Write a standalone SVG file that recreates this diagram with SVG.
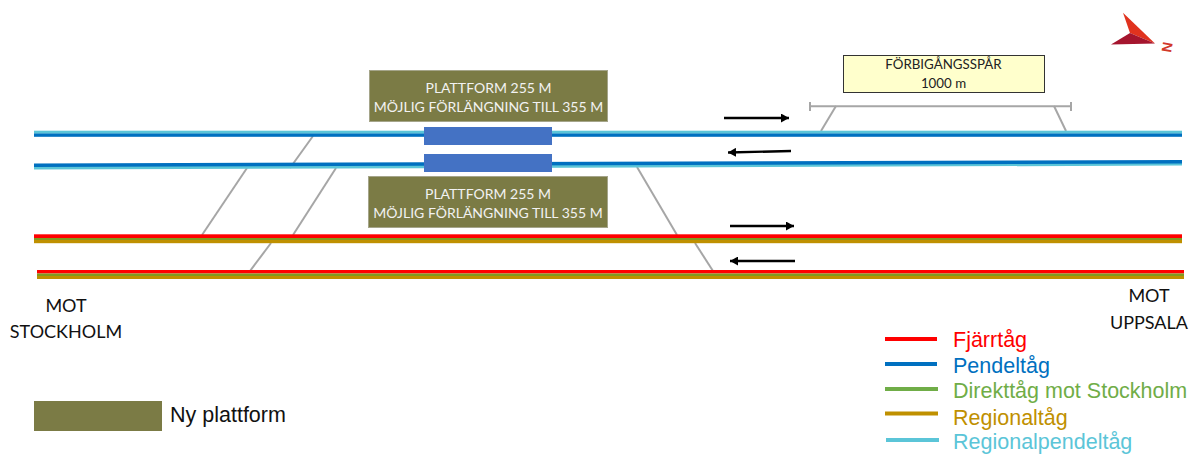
<svg xmlns="http://www.w3.org/2000/svg" width="1193" height="454" viewBox="0 0 1193 454">
<style>
.sw{stroke:#a6a6a6;stroke-width:2;fill:none}
.ar{stroke:#000;stroke-width:2.400;fill:none;marker-end:url(#ah)}
.tk{fill:none}
.plat{fill:#7b7b45;stroke:#a5a58a;stroke-width:1}
.pt{font-family:Lato,"Open Sans",sans-serif;font-size:14px;fill:#f2f2f2;text-anchor:middle}
.bt{font-family:Lato,"Open Sans",sans-serif;font-size:13.300px;fill:#222;text-anchor:middle}
.ct{font-family:Lato,"Open Sans",sans-serif;font-size:18px;fill:#111;text-anchor:middle}
.lg{font-family:"Liberation Sans",Arial,sans-serif;font-size:21.500px}
.ll{stroke-width:4;fill:none}
</style>
<defs>
<marker id="ah" markerUnits="userSpaceOnUse" markerWidth="9" markerHeight="9" refX="8" refY="4.500" orient="auto"><path d="M0,0L8,4.500L0,9z" fill="#000"/></marker>
</defs>
<g id="connectors">
<path class="sw" d="M313,136L290,168"/>
<path class="sw" d="M247,168L202,235"/>
<path class="sw" d="M336,168L293,235"/>
<path class="sw" d="M271,243L250,271"/>
<path class="sw" d="M637,167L677,235"/>
<path class="sw" d="M695,243L713,271"/>
<path class="sw" d="M836,106L821,131"/>
<path class="sw" d="M1054,106L1066,131"/>
<path class="sw" d="M810,106.300H1071M810,102V111M1071,102V111"/>
<path class="ar" d="M724,118H789"/>
<path class="ar" d="M791,151L728,152.500"/>
<path class="ar" d="M730,226H794"/>
<path class="ar" d="M795,261H730"/>
</g>
<g id="track-1">
<rect x="34" y="130.700" width="1148" height="3" fill="#5bc5d8"/>
<rect x="34" y="133.500" width="1148" height="3.300" fill="#0070c0"/>
</g>
<g id="track-2">
<path d="M34,167.800L1182,163.800" stroke="#5bc5d8" stroke-width="3.500" class="tk"/>
<path d="M34,165.200L1182,161.800" stroke="#0070c0" stroke-width="3.500" class="tk"/>
</g>
<g id="track-3">
<rect x="34" y="234.300" width="1148" height="3.700" fill="#ff0000"/>
<rect x="34" y="238" width="1148" height="2" fill="#7f9a1f"/>
<rect x="34" y="240" width="1148" height="3.200" fill="#bf9000"/>
</g>
<g id="track-4">
<rect x="37" y="270" width="1147" height="3.500" fill="#ff0000"/>
<rect x="37" y="273.500" width="1147" height="2.500" fill="#7f9a1f"/>
<rect x="37" y="276" width="1147" height="3" fill="#bf9000"/>
</g>
<g id="platform-track-1"><rect x="424" y="127" width="128" height="18" fill="#4472c4"/></g>
<g id="platform-track-2"><rect x="424" y="154" width="128" height="18" fill="#4472c4"/></g>
<g id="platform-north">
<rect class="plat" x="369.500" y="70.500" width="238" height="51"/>
<text class="pt" x="488.500" y="93">PLATTFORM 255 M</text>
<text class="pt" x="488.500" y="112">MÖJLIG FÖRLÄNGNING TILL 355 M</text>
</g>
<g id="platform-south">
<rect class="plat" x="368.500" y="176.500" width="239" height="51"/>
<text class="pt" x="488" y="199">PLATTFORM 255 M</text>
<text class="pt" x="488" y="218">MÖJLIG FÖRLÄNGNING TILL 355 M</text>
</g>
<g id="passing-track-label">
<rect x="843.500" y="55.500" width="201" height="37" fill="#ffffcc" stroke="#333" stroke-width="1"/>
<text class="bt" x="943.500" y="69">FÖRBIGÅNGSSPÅR</text>
<text class="bt" x="943.500" y="88">1000 m</text>
</g>
<g id="north-arrow">
<path d="M1123,12.700L1130,33L1155,43.500z" fill="#e0321e"/>
<path d="M1111,44.500L1130,33L1155,43.500z" fill="#a5152e"/>
<text x="0" y="0" transform="translate(1171,53) rotate(-80)" font-family="'Liberation Sans',sans-serif" font-size="14px" fill="#d2382a" font-weight="bold">N</text>
</g>
<g id="label-stockholm">
<text class="ct" x="66" y="312">MOT</text>
<text class="ct" x="66" y="338">STOCKHOLM</text>
</g>
<g id="label-uppsala">
<text class="ct" x="1149" y="302">MOT</text>
<text class="ct" x="1149" y="329">UPPSALA</text>
</g>
<g id="legend-new-platform">
<rect x="34" y="401" width="128" height="30" fill="#7b7b45"/>
<text class="lg" x="170" y="422" fill="#111">Ny plattform</text>
</g>
<g id="legend-trains">
<path class="ll" stroke="#ff0000" d="M885,339H937"/>
<path class="ll" stroke="#0070c0" d="M885,364H937"/>
<path class="ll" stroke="#70ad47" d="M885,389H938"/>
<path class="ll" stroke="#bf9000" d="M885,413.500H938"/>
<path class="ll" stroke="#5bc5d8" d="M886,440H939"/>
<text class="lg" x="953" y="347" fill="#ff0000">Fjärrtåg</text>
<text class="lg" x="953" y="373" fill="#0070c0">Pendeltåg</text>
<text class="lg" x="953" y="398" fill="#70ad47">Direkttåg mot Stockholm</text>
<text class="lg" x="953" y="425" fill="#bf9000">Regionaltåg</text>
<text class="lg" x="953" y="449" fill="#5bc5d8">Regionalpendeltåg</text>
</g>
</svg>
